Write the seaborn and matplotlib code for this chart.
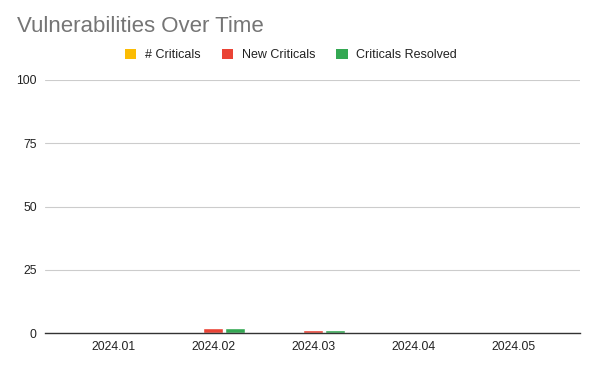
import matplotlib
matplotlib.use("Agg")
import matplotlib.pyplot as plt
import seaborn as sns
import pandas as pd
from matplotlib.patches import Patch

months = ["2024.01", "2024.02", "2024.03", "2024.04", "2024.05"]
criticals = [0, 0, 0, 0, 0]
new_criticals = [0, 2, 1, 0, 0]
resolved = [0, 2, 1, 0, 0]
series = ["# Criticals", "New Criticals", "Criticals Resolved"]
colors = ["#FBBC04", "#EA4335", "#34A853"]

df = pd.DataFrame({
    "month": months * 3,
    "series": [series[0]] * 5 + [series[1]] * 5 + [series[2]] * 5,
    "value": criticals + new_criticals + resolved,
})

sns.set_theme(style="white")
plt.rcParams["font.family"] = ["Liberation Sans", "DejaVu Sans"]

fig = plt.figure(figsize=(6, 3.7), dpi=100)
ax = fig.add_axes([45/600, 1 - 333/370, 535/600, 253/370])
sns.barplot(data=df, x="month", y="value", hue="series", palette=colors,
            width=0.66, gap=0.09, ax=ax, legend=False, saturation=1)

ax.set_ylim(0, 100)
ax.set_yticks([0, 25, 50, 75, 100])
ax.set_xlim(-0.68, 4.67)
ax.yaxis.grid(True, color="#cccccc", linewidth=0.8)
ax.set_axisbelow(True)
for s in ["top", "right", "left"]:
    ax.spines[s].set_visible(False)
ax.spines["bottom"].set_color("#333333")
ax.spines["bottom"].set_linewidth(1)
ax.tick_params(axis="both", length=0, labelsize=8.8, colors="#222222", pad=6)
ax.set_xlabel("")
ax.set_ylabel("")

fig.text(17/600, 1 - 26/370, "Vulnerabilities Over Time", fontsize=16,
         color="#757575", va="center", ha="left")

handles = [Patch(facecolor=c, edgecolor="none") for c in colors]
fig.legend(handles, series, loc="center", bbox_to_anchor=(0.485, 1 - 55/370),
           ncol=3, frameon=False, fontsize=9, handlelength=0.9,
           handleheight=0.9, handletextpad=0.7, columnspacing=1.7,
           labelcolor="#222222")

fig.savefig("out.png", dpi=100)
